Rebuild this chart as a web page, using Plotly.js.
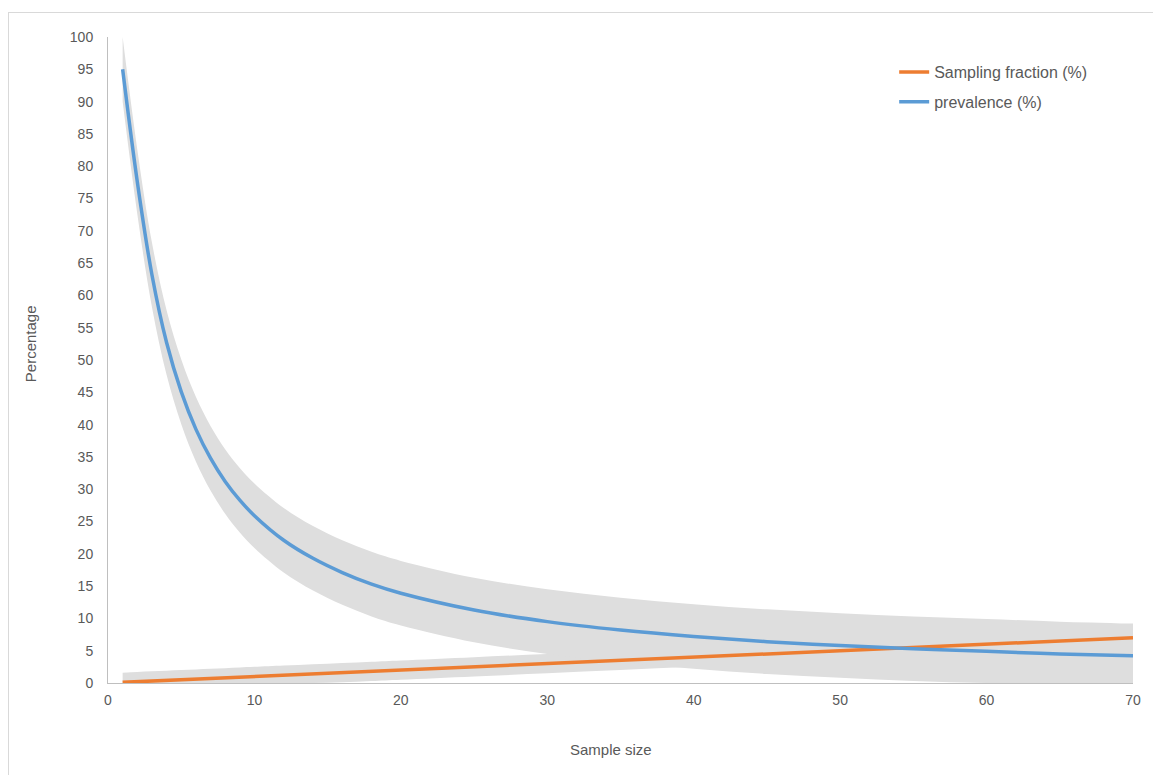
<!DOCTYPE html>
<html>
<head>
<meta charset="utf-8">
<script src="https://cdn.plot.ly/plotly-3.0.1.min.js"></script>
<style>
  html, body { margin: 0; padding: 0; background: #fff; }
  #chart { width: 1153px; height: 775px; }
  #frame { position: absolute; left: 8px; top: 12px; width: 1200px; height: 800px;
           border-left: 1px solid #d9d9d9; border-top: 1px solid #d9d9d9; pointer-events: none; }
</style>
</head>
<body>
<div id="chart"></div>
<div id="frame"></div>
<script>
// Sample sizes (x)
const sampleSize = [1,2,3,4,5,6,7,8,9,10,12,14,16,18,20,25,30,35,40,45,50,55,60,65,70];
// Prevalence (%)
const prevalence = [95.0,77.6,63.2,52.7,45.1,39.3,34.8,31.2,28.3,25.9,22.1,19.3,17.1,15.3,13.9,11.3,9.5,8.2,7.2,6.4,5.8,5.3,4.9,4.5,4.2];
// Grey band around the prevalence curve
const prevalenceUpper = [100.0,82.6,68.2,57.7,50.1,44.3,39.8,36.2,33.3,30.9,27.1,24.3,22.1,20.3,18.9,16.3,14.5,13.2,12.2,11.4,10.8,10.3,9.9,9.5,9.2];
const prevalenceLower = [90.0,72.6,58.2,47.7,40.1,34.3,29.8,26.2,23.3,20.9,17.1,14.3,12.1,10.3,8.9,6.3,4.5,3.2,2.2,1.4,0.8,0.3,0,0,0];
// Sampling fraction (%)
const samplingFraction = [0.1,0.2,0.3,0.4,0.5,0.6,0.7,0.8,0.9,1.0,1.2,1.4,1.6,1.8,2.0,2.5,3.0,3.5,4.0,4.5,5.0,5.5,6.0,6.5,7.0];
// Grey band around the sampling fraction line
const fractionUpper = [1.6,1.7,1.8,1.9,2.0,2.1,2.2,2.3,2.4,2.5,2.7,2.9,3.1,3.3,3.5,4.0,4.5,5.0,5.5,6.0,6.5,7.0,7.5,8.0,8.5];
const fractionLower = [0,0,0,0,0,0,0,0,0,0,0,0,0.1,0.3,0.5,1.0,1.5,2.0,2.5,3.0,3.5,4.0,4.5,5.0,5.5];
// Tick labels
const xTicks = [0,10,20,30,40,50,60,70];
const yTicks = [0,5,10,15,20,25,30,35,40,45,50,55,60,65,70,75,80,85,90,95,100];

const bandColor = '#dedede';
const textColor = '#595959';
const traces = [
  { x: sampleSize, y: fractionLower, mode: 'lines', line: {width: 0, color: bandColor, shape: 'spline'}, showlegend: false, hoverinfo: 'skip' },
  { x: sampleSize, y: fractionUpper, mode: 'lines', line: {width: 0, color: bandColor, shape: 'spline'}, fill: 'tonexty', fillcolor: bandColor, showlegend: false, hoverinfo: 'skip' },
  { x: sampleSize, y: prevalenceLower, mode: 'lines', line: {width: 0, color: bandColor, shape: 'spline'}, showlegend: false, hoverinfo: 'skip' },
  { x: sampleSize, y: prevalenceUpper, mode: 'lines', line: {width: 0, color: bandColor, shape: 'spline'}, fill: 'tonexty', fillcolor: bandColor, showlegend: false, hoverinfo: 'skip' },
  { x: sampleSize, y: samplingFraction, mode: 'lines', name: 'Sampling fraction (%)', legendgroup: 'a', line: {color: '#ED7D31', width: 3.5} },
  { x: sampleSize, y: prevalence, mode: 'lines', name: 'prevalence (%)', legendgroup: 'b', line: {color: '#5B9BD5', width: 3.5, shape: 'spline'} }
];

const layout = {
  width: 1153, height: 775,
  margin: {l: 108, r: 20, t: 37, b: 92},
  paper_bgcolor: '#ffffff', plot_bgcolor: '#ffffff',
  font: {family: 'Liberation Sans, Arial, sans-serif', size: 14, color: textColor},
  showlegend: true,
  legend: {x: 0.767, y: 0.972, xanchor: 'left', yanchor: 'top', font: {size: 16, color: textColor},
           bgcolor: 'rgba(0,0,0,0)', traceorder: 'grouped', tracegroupgap: 6},
  xaxis: {
    range: [0, 70], tickvals: xTicks, ticktext: xTicks.map(String),
    showgrid: false, zeroline: false, showline: true, linecolor: '#bfbfbf', linewidth: 1,
    ticks: '', ticklen: 0, ticklabelstandoff: 4, tickfont: {size: 14, color: textColor}
  },
  yaxis: {
    range: [0, 100], tickvals: yTicks, ticktext: yTicks.map(String),
    showgrid: false, zeroline: false, showline: true, linecolor: '#bfbfbf', linewidth: 1,
    ticks: '', ticklen: 0, ticklabelstandoff: 11, tickfont: {size: 14, color: textColor}
  },
  annotations: [
    {text: 'Percentage', xref: 'paper', yref: 'paper', x: -0.0761, y: 0.526, textangle: -90,
     showarrow: false, xanchor: 'center', yanchor: 'middle', font: {size: 15, color: textColor}},
    {text: 'Sample size', xref: 'paper', yref: 'paper', x: 0.491, y: -0.1037,
     showarrow: false, xanchor: 'center', yanchor: 'middle', font: {size: 15, color: textColor}}
  ]
};

Plotly.newPlot('chart', traces, layout, {displayModeBar: false, staticPlot: true});
</script>
</body>
</html>
